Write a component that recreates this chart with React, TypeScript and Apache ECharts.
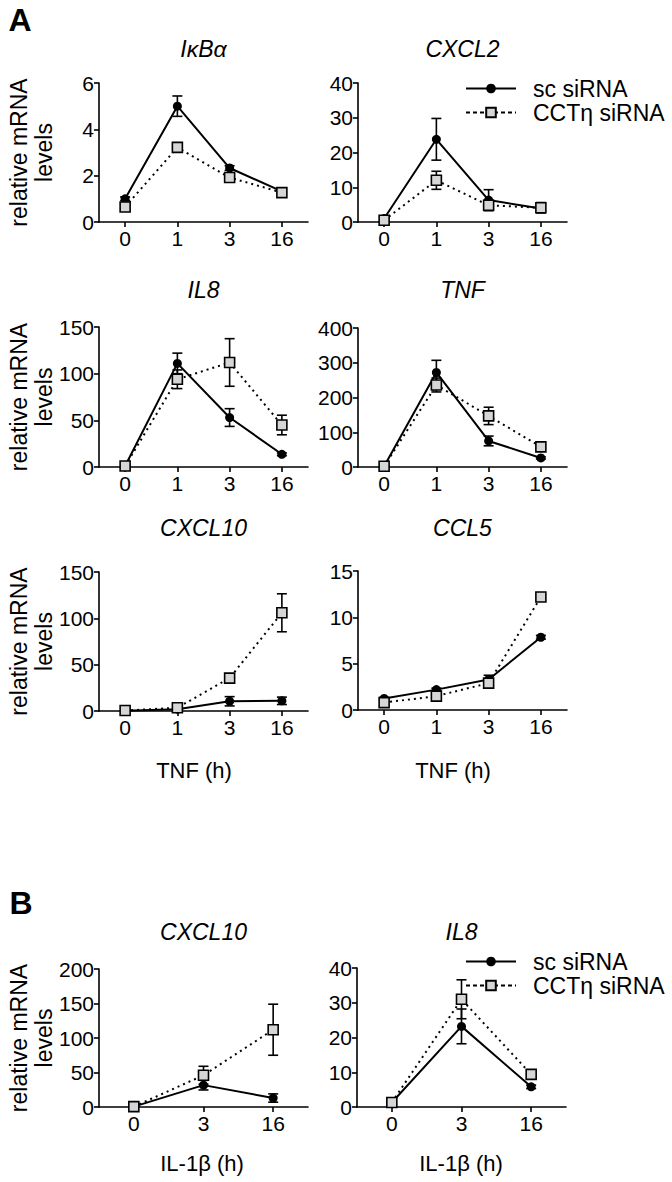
import React, { useEffect, useRef } from "react";
import * as echarts from "echarts";

// ---------- data ----------
const catsTNF = ["0", "1", "3", "16"];
const catsIL1 = ["0", "3", "16"];

const ikbaSc = [1.0, 5.0, 2.33, 1.32];
const ikbaScErr = [0.08, 0.44, 0.1, 0.08];
const ikbaCct = [0.65, 3.22, 1.92, 1.27];
const ikbaCctErr = [0.1, 0.15, 0.15, 0.08];

const cxcl2Sc = [1.0, 23.8, 6.3, 3.9];
const cxcl2ScErr = [0.5, 6.0, 3.0, 0.8];
const cxcl2Cct = [0.5, 12.0, 4.8, 4.1];
const cxcl2CctErr = [0.3, 2.6, 1.5, 1.5];

const il8Sc = [1, 111, 53, 13.6];
const il8ScErr = [0.5, 11, 9.5, 1.5];
const il8Cct = [1, 94, 112, 45];
const il8CctErr = [0.5, 10, 25.5, 10.5];

const tnfSc = [2, 272, 75, 26];
const tnfScErr = [1, 35, 14, 3];
const tnfCct = [2, 236, 147, 58];
const tnfCctErr = [1, 20, 25, 5];

const cxcl10Sc = [0.3, 2, 10.5, 11];
const cxcl10ScErr = [0.2, 0.5, 5, 4];
const cxcl10Cct = [0.5, 3.5, 35.5, 106];
const cxcl10CctErr = [0.3, 1, 3, 20.5];

const ccl5Sc = [1.25, 2.2, 3.3, 7.85];
const ccl5ScErr = [0.1, 0.15, 0.45, 0.2];
const ccl5Cct = [0.8, 1.5, 2.9, 12.2];
const ccl5CctErr = [0.1, 0.15, 0.4, 0.45];

const bCxcl10Sc = [0.5, 31.7, 13];
const bCxcl10ScErr = [0.3, 7, 6];
const bCxcl10Cct = [0.5, 46, 112];
const bCxcl10CctErr = [0.3, 13, 37];

const bIl8Sc = [1.3, 23.2, 5.8];
const bIl8ScErr = [0.2, 5, 0.5];
const bIl8Cct = [1.3, 31, 9.4];
const bIl8CctErr = [0.2, 5.6, 0.8];

const SC = "sc siRNA";
const CCT = "CCTη siRNA";

// ---------- layout ----------
const FONT = "Liberation Sans, Arial, Helvetica, sans-serif";

type Panel = {
  title: string;
  box: [number, number, number, number];
  titleY: number;
  cats: string[];
  max: number;
  interval: number;
  sc: number[];
  scErr: number[];
  cct: number[];
  cctErr: number[];
};

const panels: Panel[] = [
  { title: "IκBα", box: [99, 83, 209, 139], titleY: 49, cats: catsTNF, max: 6, interval: 2, sc: ikbaSc, scErr: ikbaScErr, cct: ikbaCct, cctErr: ikbaCctErr },
  { title: "CXCL2", box: [358, 83, 209, 139], titleY: 49, cats: catsTNF, max: 40, interval: 10, sc: cxcl2Sc, scErr: cxcl2ScErr, cct: cxcl2Cct, cctErr: cxcl2CctErr },
  { title: "IL8", box: [99, 327, 209, 140], titleY: 290, cats: catsTNF, max: 150, interval: 50, sc: il8Sc, scErr: il8ScErr, cct: il8Cct, cctErr: il8CctErr },
  { title: "TNF", box: [358, 328, 209, 139], titleY: 290, cats: catsTNF, max: 400, interval: 100, sc: tnfSc, scErr: tnfScErr, cct: tnfCct, cctErr: tnfCctErr },
  { title: "CXCL10", box: [99, 572, 209, 139], titleY: 528, cats: catsTNF, max: 150, interval: 50, sc: cxcl10Sc, scErr: cxcl10ScErr, cct: cxcl10Cct, cctErr: cxcl10CctErr },
  { title: "CCL5", box: [358, 571, 209, 139], titleY: 528, cats: catsTNF, max: 15, interval: 5, sc: ccl5Sc, scErr: ccl5ScErr, cct: ccl5Cct, cctErr: ccl5CctErr },
  { title: "CXCL10", box: [99, 969, 209, 138], titleY: 932, cats: catsIL1, max: 200, interval: 50, sc: bCxcl10Sc, scErr: bCxcl10ScErr, cct: bCxcl10Cct, cctErr: bCxcl10CctErr },
  { title: "IL8", box: [357, 968, 209, 139], titleY: 932, cats: catsIL1, max: 40, interval: 10, sc: bIl8Sc, scErr: bIl8ScErr, cct: bIl8Cct, cctErr: bIl8CctErr },
];

function renderErr(params: any, api: any) {
  const x = api.value(0);
  const lo = api.value(1);
  const hi = api.value(2);
  const pHi = api.coord([x, hi]);
  const pLo = api.coord([x, lo]);
  const w = 5;
  const style = { stroke: "#000", lineWidth: 1.6, fill: "none" };
  return {
    type: "group",
    children: [
      { type: "line", shape: { x1: pHi[0], y1: pHi[1], x2: pLo[0], y2: pLo[1] }, style },
      { type: "line", shape: { x1: pHi[0] - w, y1: pHi[1], x2: pHi[0] + w, y2: pHi[1] }, style },
      { type: "line", shape: { x1: pLo[0] - w, y1: pLo[1], x2: pLo[0] + w, y2: pLo[1] }, style },
    ],
  };
}

function buildOption() {
  const grid: any[] = [];
  const xAxis: any[] = [];
  const yAxis: any[] = [];
  const series: any[] = [];
  const graphic: any[] = [];

  panels.forEach((p, i) => {
    const [l, t, w, h] = p.box;
    grid.push({ left: l, top: t, width: w, height: h, containLabel: false });
    xAxis.push({
      type: "category",
      gridIndex: i,
      data: p.cats,
      boundaryGap: true,
      axisLine: { show: true, lineStyle: { color: "#000", width: 1.6 } },
      axisTick: { show: true, alignWithLabel: true, length: 5, lineStyle: { color: "#000", width: 1.6 } },
      axisLabel: { color: "#000", fontSize: 21, fontFamily: FONT, margin: 6 },
      splitLine: { show: false },
    });
    yAxis.push({
      type: "value",
      gridIndex: i,
      min: 0,
      max: p.max,
      interval: p.interval,
      axisLine: { show: true, lineStyle: { color: "#000", width: 1.6 } },
      axisTick: { show: true, length: 5, lineStyle: { color: "#000", width: 1.6 } },
      axisLabel: { color: "#000", fontSize: 21, fontFamily: FONT, margin: 5 },
      splitLine: { show: false },
    });
    const errData = (m: number[], e: number[]) =>
      m.map((v, k) => [k, Math.max(0, v - e[k]), v + e[k]]);
    series.push({
      type: "custom",
      name: "err-sc-" + i,
      xAxisIndex: i,
      yAxisIndex: i,
      renderItem: renderErr,
      encode: { x: 0, y: [1, 2] },
      data: errData(p.sc, p.scErr),
      z: 2,
      silent: true,
    });
    series.push({
      type: "custom",
      name: "err-cct-" + i,
      xAxisIndex: i,
      yAxisIndex: i,
      renderItem: renderErr,
      encode: { x: 0, y: [1, 2] },
      data: errData(p.cct, p.cctErr),
      z: 2,
      silent: true,
    });
    series.push({
      type: "line",
      name: SC,
      xAxisIndex: i,
      yAxisIndex: i,
      data: p.sc,
      symbol: "circle",
      symbolSize: 9,
      showAllSymbol: true,
      itemStyle: { color: "#000" },
      lineStyle: { color: "#000", width: 2 },
      z: 3,
    });
    series.push({
      type: "line",
      name: CCT,
      xAxisIndex: i,
      yAxisIndex: i,
      data: p.cct,
      symbol: "rect",
      symbolSize: 10,
      showAllSymbol: true,
      itemStyle: { color: "#d6d6d6", borderColor: "#000", borderWidth: 1.6 },
      lineStyle: { color: "#000", width: 2, type: [2, 4] },
      z: 4,
    });
    graphic.push({
      type: "text",
      x: l + w / 2,
      y: p.titleY,
      style: {
        text: p.title,
        fontSize: 23,
        fontStyle: "italic",
        fontFamily: FONT,
        fill: "#000",
        textAlign: "center",
        textVerticalAlign: "middle",
      },
    });
    if (l < 200) {
      graphic.push({
        type: "text",
        x: 31,
        y: t + h / 2,
        rotation: Math.PI / 2,
        style: {
          text: "relative mRNA\nlevels",
          fontSize: 23,
          lineHeight: 25,
          fontFamily: FONT,
          fill: "#000",
          textAlign: "center",
          textVerticalAlign: "middle",
        },
      });
    }
  });

  const axisName = (text: string, x: number, y: number) => ({
    type: "text",
    x,
    y,
    style: { text, fontSize: 22, fontFamily: FONT, fill: "#000", textAlign: "center", textVerticalAlign: "middle" },
  });
  graphic.push(axisName("TNF (h)", 194, 770));
  graphic.push(axisName("TNF (h)", 453, 770));
  graphic.push(axisName("IL-1β (h)", 202, 1163));
  graphic.push(axisName("IL-1β (h)", 461, 1163));

  const panelLetter = (text: string, x: number, y: number) => ({
    type: "text",
    x,
    y,
    style: { text, fontSize: 32, fontWeight: "bold", fontFamily: FONT, fill: "#000", textAlign: "center", textVerticalAlign: "middle" },
  });
  graphic.push(panelLetter("A", 20, 20));
  graphic.push(panelLetter("B", 21, 903));

  const legendBase = (top: number) => ({
    data: [
      { name: SC },
      { name: CCT, lineStyle: { type: [4, 3] } },
    ],
    orient: "vertical",
    left: 465,
    top,
    padding: 0,
    itemWidth: 50,
    itemHeight: 12,
    itemGap: 1,
    selectedMode: false,
    textStyle: { fontSize: 23, color: "#000", fontFamily: FONT, padding: [0, 0, 0, 12] },
  });

  return {
    animation: false,
    backgroundColor: "#fff",
    legend: [legendBase(77), legendBase(950)],
    grid,
    xAxis,
    yAxis,
    series,
    graphic,
  };
}

export default function App() {
  const ref = useRef<HTMLDivElement>(null);
  useEffect(() => {
    if (!ref.current) return;
    const chart = echarts.init(ref.current, null, { renderer: "svg" });
    chart.setOption(buildOption() as any);
    return () => chart.dispose();
  }, []);
  return (
    <div
      ref={ref}
      style={{ position: "absolute", left: 0, top: 0, width: 672, height: 1182, background: "#fff" }}
    />
  );
}
